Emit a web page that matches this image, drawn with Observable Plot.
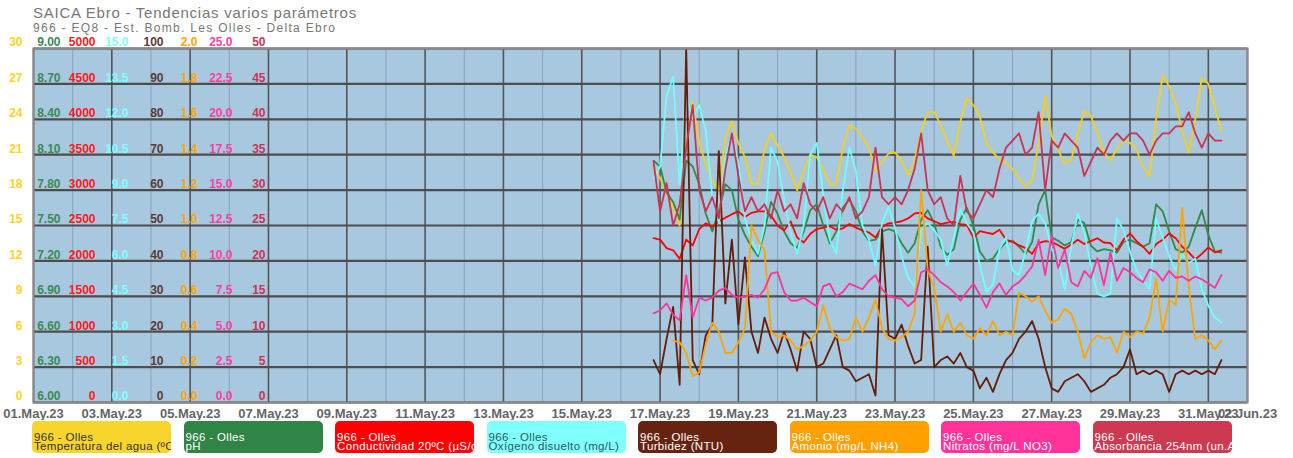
<!DOCTYPE html>
<html><head><meta charset="utf-8">
<script src="https://cdn.jsdelivr.net/npm/d3@7"></script>
<script src="https://cdn.jsdelivr.net/npm/@observablehq/plot@0.6"></script>
<style>
body{margin:0;background:#fff;font-family:"Liberation Sans",Arial,sans-serif;}
#wrap{position:relative;width:1293px;height:458px;overflow:hidden;}
#title{position:absolute;left:33px;top:5px;font-size:15px;line-height:15px;letter-spacing:0.75px;color:#777;white-space:nowrap;}
#subtitle{position:absolute;left:33px;top:22px;font-size:12px;line-height:12px;letter-spacing:1.3px;color:#777;white-space:nowrap;}
#chart{position:absolute;left:0;top:34px;}
.item{position:absolute;top:421px;width:139px;height:32px;border-radius:5px;overflow:hidden;white-space:nowrap;font-size:11.5px;line-height:9px;letter-spacing:0.35px;padding:12px 0 0 2px;box-sizing:border-box;}
</style></head>
<body><div id="wrap">
<div id="title">SAICA Ebro - Tendencias varios parámetros</div>
<div id="subtitle">966 - EQ8 - Est. Bomb. Les Olles - Delta Ebro</div>
<div id="chart"></div>
<div id="legend"></div>
</div>
<script>
// ---- series (4-hour samples from 16.May.23 20:00 UTC) ----
const startTime = "2023-05-16T20:00:00Z";
const stepHours = 4;

const temperatura = [
 20.0,19.0,17.8,16.5,15.0,22.0,25.5,22.0,20.2,18.8,18.0,
 22.5,23.8,22.0,20.8,18.5,18.5,21.5,22.8,21.8,20.8,19.5,
 18.0,19.6,21.0,20.8,19.8,18.5,18.5,21.6,23.5,23.2,22.5,
 21.6,19.6,20.4,21.1,21.2,20.5,19.3,20.5,23.0,24.6,24.6,
 23.5,22.2,20.9,23.8,25.8,25.2,24.2,22.0,21.2,20.6,20.3,
 19.8,19.0,18.3,18.8,22.0,26.0,22.6,21.4,20.2,20.6,22.8,
 24.7,24.3,22.8,21.2,20.5,21.5,22.2,22.0,21.4,20.0,19.2,
 24.0,27.7,26.8,25.4,23.0,21.2,24.0,27.5,27.0,25.0,23.0];

const ph = [
 8.05,8.00,7.78,7.70,7.55,8.05,8.00,7.85,7.60,7.45,7.62,
 7.85,7.80,7.55,7.42,7.32,7.24,7.45,7.70,7.60,7.45,7.35,
 7.31,7.45,7.63,7.68,7.50,7.35,7.45,7.65,7.72,7.62,7.45,
 7.37,7.38,7.45,7.47,7.45,7.35,7.27,7.35,7.55,7.63,7.52,
 7.32,7.25,7.30,7.55,7.65,7.50,7.28,7.20,7.22,7.30,7.36,
 7.37,7.32,7.26,7.36,7.68,7.80,7.40,7.37,7.33,7.36,7.55,
 7.52,7.33,7.28,7.30,7.29,7.27,7.36,7.38,7.35,7.32,7.35,
 7.68,7.62,7.45,7.30,7.27,7.32,7.48,7.63,7.42,7.28,7.27];

const conductividad = [
 2320,2300,2180,2150,2030,2300,2220,2450,2530,2480,2560,
 2610,2660,2700,2620,2680,2700,2700,2640,2500,2430,2560,
 2330,2260,2380,2450,2470,2490,2440,2460,2520,2470,2430,
 2400,2330,2480,2530,2540,2560,2600,2670,2680,2600,2560,
 2520,2540,2550,2520,2510,2330,2420,2400,2380,2440,2300,
 2270,2220,2180,2100,2250,2280,2270,2220,2170,2230,2300,
 2240,2280,2320,2260,2250,2150,2300,2390,2280,2200,2100,
 2240,2300,2390,2320,2200,2120,2020,2100,2190,2120,2150];

const oxigeno = [
 9.5,10.0,13.0,13.8,9.2,13.0,12.0,12.6,11.5,8.7,7.6,
 10.5,11.3,10.2,7.8,6.9,6.3,7.5,10.8,10.2,8.6,7.2,
 6.3,7.5,10.5,11.0,8.8,6.9,6.3,9.0,10.8,9.8,7.5,
 6.9,5.8,7.6,8.3,7.4,6.2,5.3,4.9,7.3,7.6,7.3,
 6.9,5.8,7.0,8.2,7.6,7.2,5.8,4.7,5.0,6.5,7.0,
 5.6,5.4,6.4,7.7,8.0,7.6,6.5,6.0,4.8,6.6,8.0,
 7.2,5.8,4.6,4.5,4.6,7.8,7.3,6.4,5.6,5.2,4.8,
 7.8,7.0,6.2,5.6,6.3,5.9,6.1,4.8,4.1,3.6,3.4];

const turbidez = [
 12,8,18,27,5,100,12,8,19,22,71,
 28,46,22,41,20,14,24,18,14,20,15,
 9,20,18,10,11,15,19,10,9,6,7,
 8,2,49,19,18,22,16,11,12,44,10,
 12,13,11,14,10,9,4,7,3,8,12,
 14,18,20,23,18,10,4,3,6,7,8,
 6,3,4,5,7,8,10,15,8,9,8,
 9,8,3,8,9,8,9,8,9,8,12];

const amonio = [
 null,null,null,0.35,0.34,0.28,0.15,0.17,0.33,0.45,0.40,
 0.28,0.28,0.34,0.42,1.00,0.92,0.86,0.40,0.37,0.38,0.35,
 0.30,0.32,0.35,0.40,0.55,0.42,0.37,0.35,0.36,0.48,0.40,
 0.48,0.58,0.42,0.36,0.35,0.37,0.40,0.50,1.20,0.75,0.65,
 0.40,0.50,0.40,0.45,0.38,0.36,0.42,0.38,0.46,0.38,0.40,
 0.38,0.62,0.60,0.57,0.60,0.52,0.45,0.47,0.53,0.50,0.40,
 0.25,0.34,0.38,0.36,0.37,0.28,0.40,0.37,0.40,0.39,0.48,
 0.70,0.40,0.58,0.55,1.10,0.65,0.36,0.38,0.35,0.30,0.35];

const nitratos = [
 6.3,6.5,7.0,6.2,5.8,9.0,6.0,7.4,7.2,7.4,7.9,
 8.1,7.6,7.4,7.5,7.6,7.4,8.0,9.1,9.2,7.8,7.2,
 7.2,7.4,7.1,6.8,8.2,8.4,7.5,7.8,8.4,8.2,8.0,
 8.6,9.0,8.0,7.5,7.4,7.3,6.8,7.2,9.2,9.4,9.0,
 8.5,8.2,7.8,7.2,7.8,8.4,7.6,6.7,7.8,8.4,7.6,
 8.2,8.5,9.0,9.6,11.5,9.0,11.8,9.5,10.8,8.5,8.2,
 9.3,8.8,10.2,8.3,10.6,8.6,9.5,9.2,8.8,8.5,9.4,
 9.2,8.6,9.3,8.8,8.9,8.6,8.9,8.7,8.4,8.1,9.0];

const absorbancia = [
 34,27,31,25,28,36,42,30,27,29,26,
 33,38,32,27,29,27,28,26,30,27,28,
 26,31,28,27,29,26,28,27,29,26,27,
 29,36,29,28,29,28,30,33,38,30,28,
 29,26,25,32,27,26,28,30,29,33,36,
 37,38,35,36,41,30,37,36,38,37,36,
 32,34,36,35,37,38,37,38,38,37,35,
 37,38,38,39,39,41,38,36,38,37,37];

// ---- axis tick labels ----
const gridValues = [0,3,6,9,12,15,18,21,24,27,30];
const temperaturaTicks = ["0","3","6","9","12","15","18","21","24","27","30"];
const phTicks = ["6.00","6.30","6.60","6.90","7.20","7.50","7.80","8.10","8.40","8.70","9.00"];
const conductividadTicks = ["0","500","1000","1500","2000","2500","3000","3500","4000","4500","5000"];
const oxigenoTicks = ["0.0","1.5","3.0","4.5","6.0","7.5","9.0","10.5","12.0","13.5","15.0"];
const turbidezTicks = ["0","10","20","30","40","50","60","70","80","90","100"];
const amonioTicks = ["0.0","0.2","0.4","0.6","0.8","1.0","1.2","1.4","1.6","1.8","2.0"];
const nitratosTicks = ["0.0","2.5","5.0","7.5","10.0","12.5","15.0","17.5","20.0","22.5","25.0"];
const absorbanciaTicks = ["0","5","10","15","20","25","30","35","40","45","50"];

const xTickDates = ["2023-05-01","2023-05-03","2023-05-05","2023-05-07","2023-05-09","2023-05-11","2023-05-13","2023-05-15","2023-05-17","2023-05-19","2023-05-21","2023-05-23","2023-05-25","2023-05-27","2023-05-29","2023-05-31","2023-06-01"];
const xTickLabels = ["01.May.23","03.May.23","05.May.23","07.May.23","09.May.23","11.May.23","13.May.23","15.May.23","17.May.23","19.May.23","21.May.23","23.May.23","25.May.23","27.May.23","29.May.23","31.May.23","02.Jun.23"];
const xMinorDates = ["2023-05-02","2023-05-04","2023-05-06","2023-05-08","2023-05-10","2023-05-12","2023-05-14","2023-05-16","2023-05-18","2023-05-20","2023-05-22","2023-05-24","2023-05-26","2023-05-28","2023-05-30"];

const legendNames = ["Temperatura del agua (ºC)","pH","Conductividad 20ºC (µS/cm)","Oxígeno disuelto (mg/L)","Turbidez (NTU)","Amonio (mg/L NH4)","Nitratos (mg/L NO3)","Absorbancia 254nm (un.Abs)"];
const legendFill = ["#f8d52c","#2f8446","#ff0000","#80ffff","#66230f","#ffa000","#ff3399","#cc3950"];
const legendText = ["#333333","#ffffff","#ffffff","#2c5a5a","#ffffff","#ffffff","#ffffff","#ffffff"];
const lineColors = ["#f5cf1e","#2e8b4a","#ff0000","#70ffff","#661c06","#ffa500","#ff3399","#cc3352"];
const labelColors = ["#ffd21f","#3a8a52","#ff1a1a","#80ffff","#5a3a34","#ffa500","#ff3fa0","#cc3355"];

// ---- build ----
const t0 = new Date(startTime).getTime();
const toDate = s => new Date(s + "T00:00:00Z");

const series = [
  {values: temperatura,   toY: v => v},
  {values: ph,            toY: v => (v - 6) * 10},
  {values: conductividad, toY: v => v * 30 / 5000},
  {values: oxigeno,       toY: v => v * 2},
  {values: turbidez,      toY: v => v * 0.3},
  {values: amonio,        toY: v => v * 15},
  {values: nitratos,      toY: v => v * 1.2},
  {values: absorbancia,   toY: v => v * 0.6}
];
const tickCols = [temperaturaTicks, phTicks, conductividadTicks, oxigenoTicks, turbidezTicks, amonioTicks, nitratosTicks, absorbanciaTicks];
const labelDx = [-11, 27, 62, 95, 130, 164, 199, 232];

const lineMarks = series.map((s, k) => {
  const rows = s.values.map((v, i) => ({t: new Date(t0 + i * stepHours * 3600e3), v}))
    .filter(d => d.v != null);
  return Plot.line(rows, {x: "t", y: d => s.toY(d.v), stroke: lineColors[k], strokeWidth: 1.8, clip: true});
});

const labelMarks = tickCols.map((labels, k) =>
  Plot.text(gridValues, {y: d => d, text: (d, i) => labels[i], frameAnchor: "left", dx: labelDx[k], dy: -6,
    textAnchor: "end", fill: labelColors[k], fontSize: 12, fontWeight: "bold"}));

const labelMap = new Map(xTickDates.map((d, i) => [toDate(d).getTime(), xTickLabels[i]]));

const chart = Plot.plot({
  width: 1293, height: 386,
  marginLeft: 33, marginRight: 46, marginTop: 14, marginBottom: 18,
  x: {type: "utc", domain: [toDate("2023-05-01"), toDate("2023-06-01")], label: null},
  y: {domain: [0, 30], axis: null},
  style: {background: "transparent", fontFamily: "Liberation Sans, Arial, sans-serif"},
  marks: [
    Plot.frame({fill: "#a8c8e0"}),
    Plot.ruleX(xMinorDates.map(toDate), {stroke: "#86a3ba", strokeWidth: 1}),
    Plot.ruleX(xTickDates.map(toDate), {stroke: "#555", strokeWidth: 1.6}),
    Plot.ruleY(gridValues, {stroke: "#4d4d4d", strokeWidth: 2.2}),
    ...lineMarks,
    Plot.frame({stroke: "#8a8a8a", strokeWidth: 2}),
    ...labelMarks,
    Plot.axisX({ticks: xTickDates.map(toDate), tickFormat: d => labelMap.get(+d), tickSize: 0, tickPadding: 6,
      label: null, fontSize: 13, fontWeight: "bold", fill: "#666"})
  ]
});
document.getElementById("chart").appendChild(chart);

const legend = document.getElementById("legend");
legendNames.forEach((name, i) => {
  const el = document.createElement("div");
  el.className = "item";
  el.style.left = (32 + i * 151.5) + "px";
  el.style.background = legendFill[i];
  el.style.color = legendText[i];
  el.innerHTML = "966 - Olles<br>" + name;
  legend.appendChild(el);
});
</script>
</body></html>
